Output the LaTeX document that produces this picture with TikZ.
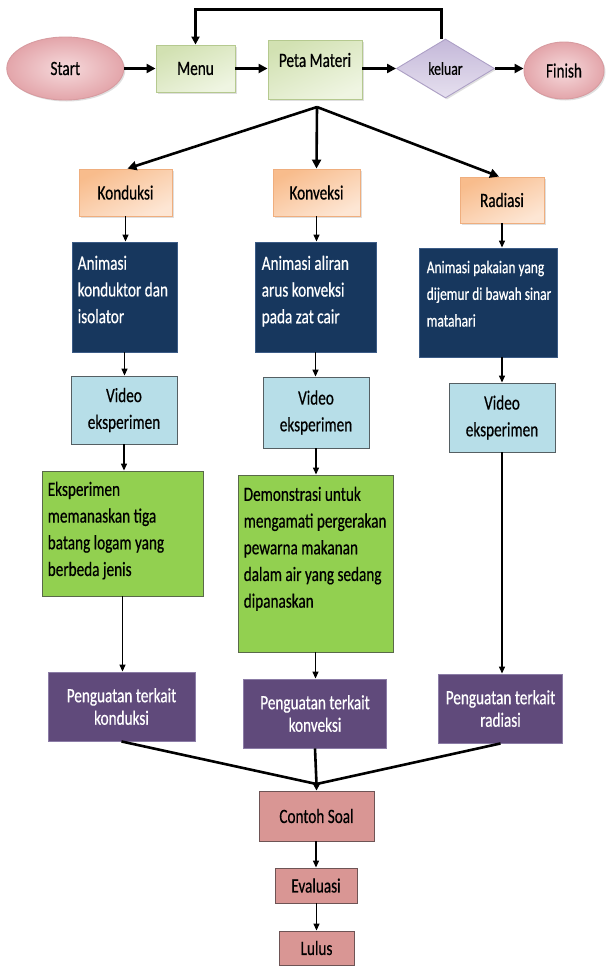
\documentclass[tikz,border=0pt]{standalone}
\usepackage{fontspec}
\setmainfont{Carlito}[FakeStretch=0.75,FakeBold=0.5]
\usetikzlibrary{arrows.meta,shapes.geometric,shadows}

\definecolor{pinkA}{HTML}{F6DADC}
\definecolor{pinkB}{HTML}{E3A5AA}
\definecolor{pinkD}{HTML}{D79BA0}
\definecolor{grnA}{HTML}{EFF5E2}
\definecolor{grnB}{HTML}{D2E1B2}
\definecolor{grnD}{HTML}{B5C98F}
\definecolor{lavA}{HTML}{E6E0EF}
\definecolor{lavB}{HTML}{C4B8D9}
\definecolor{lavD}{HTML}{ADA0C6}
\definecolor{pchA}{HTML}{FDE6D4}
\definecolor{pchB}{HTML}{F8BC8C}
\definecolor{pchD}{HTML}{EFAE7E}
\definecolor{navy}{HTML}{17375E}
\definecolor{navyD}{HTML}{3B5B86}
\definecolor{lblue}{HTML}{B7DEE8}
\definecolor{lblueD}{HTML}{555F63}
\definecolor{lgreen}{HTML}{92D050}
\definecolor{lgreenD}{HTML}{59694A}
\definecolor{purp}{HTML}{604A7B}
\definecolor{purpD}{HTML}{8B7CA6}
\definecolor{rose}{HTML}{D99694}
\definecolor{roseD}{HTML}{6E5455}

\tikzset{
  basebox/.style={rectangle, inner sep=0pt, line width=0.9pt, align=center,
    font=\fontsize{20.3}{26.7}\selectfont},
  shad/.style={drop shadow={opacity=0.25, shadow xshift=1.5pt, shadow yshift=-1.5pt}},
  oval/.style={ellipse, inner sep=0pt, draw=pinkD, line width=0.9pt,
    inner color=pinkA, outer color=pinkB, shad, font=\fontsize{20.3}{22}\selectfont},
  greenbox/.style={basebox, draw=grnD, top color=grnB, bottom color=grnA, shading angle=25, shad},
  decision/.style={diamond, inner sep=0pt, draw=lavD, line width=0.9pt,
    top color=lavB, bottom color=lavA, shad, font=\fontsize{18.2}{20}\selectfont},
  peachbox/.style={basebox, draw=pchD, top color=pchB, bottom color=pchA, shading angle=25, shad},
  navybox/.style={basebox, draw=navyD, fill=navy},
  videobox/.style={basebox, draw=lblueD, fill=lblue},
  expbox/.style={basebox, draw=lgreenD, fill=lgreen},
  purpbox/.style={basebox, draw=purpD, fill=purp, text=white,
    font=\fontsize{20.3}{22.5}\selectfont},
  rosebox/.style={basebox, draw=roseD, fill=rose},
  wtext/.style={inner sep=0pt, anchor=north west, align=left, text=white,
    font=\fontsize{20.3}{26.7}\selectfont},
  btext/.style={inner sep=0pt, anchor=north west, align=left, text=black,
    font=\fontsize{20.3}{26.7}\selectfont},
  bigarrow/.style={line width=2.6pt, -{Triangle[length=9pt,width=9pt]}},
  bigline/.style={line width=2.6pt},
  smallarrow/.style={line width=1.3pt, -{Triangle[length=7pt,width=6pt]}}
}

\begin{document}
\begin{tikzpicture}[x=1pt,y=-1pt]
\useasboundingbox (0,0) rectangle (606,967);

% top row
\node[oval, minimum width=117pt, minimum height=63pt] (start) at (65.3,68.5) {Start};
\node[greenbox, minimum width=79pt, minimum height=47pt] (menu) at (195.5,68.5) {Menu};
\node[greenbox, minimum width=94pt, minimum height=59pt] (peta) at (315,69.5) {};
\node[inner sep=0pt, font=\fontsize{20.3}{22}\selectfont] (petat) at (315,60) {Peta Materi};
\node[decision, minimum width=98pt, minimum height=59pt] (keluar) at (445.5,68.5) {keluar};
\node[oval, minimum width=80pt, minimum height=57pt] (finish) at (564,70.5) {Finish};

\draw[bigarrow] (start) -- (menu);
\draw[bigarrow] (menu) -- (menu -| peta.west);
\draw[bigarrow] (peta.east |- keluar) -- (keluar);
\draw[bigarrow] (keluar) -- (keluar -| finish.west);
\draw[line width=2.3pt, -{Triangle[length=8pt,width=8pt]}]
  ([xshift=-4pt]keluar.north) -- ++(0,-29) -| (menu.north);

% categories
\node[peachbox, minimum width=93pt, minimum height=47pt] (kond) at (125.5,192.5) {Konduksi};
\node[peachbox, minimum width=87pt, minimum height=47pt] (konv) at (316.5,192.5) {Konveksi};
\node[peachbox, minimum width=84pt, minimum height=46pt] (rad) at (502,200) {Radiasi};

\coordinate (fan) at (317,107);
\draw[bigarrow] (fan) -- ([xshift=2pt]kond.north);
\draw[bigarrow] (fan) -- (konv.north);
\draw[bigarrow] (fan) -- ([xshift=-3pt]rad.north);

% animations
\node[navybox, minimum width=105pt, minimum height=110pt] (d1) at (124.5,297) {};
\node[navybox, minimum width=121pt, minimum height=110pt] (d2) at (315.5,297) {};
\node[navybox, minimum width=138pt, minimum height=109pt] (d3) at (488,302.5) {};
\node[wtext] (d1t) at ([xshift=6pt,yshift=-14pt]d1.north west) {Animasi\\konduktor dan\\isolator};
\node[wtext] (d2t) at ([xshift=7pt,yshift=-14pt]d2.north west) {Animasi aliran\\arus konveksi\\pada zat cair};
\node[wtext, font=\fontsize{17.9}{26.7}\selectfont] (d3t) at ([xshift=8pt,yshift=-13pt]d3.north west) {Animasi pakaian yang\\dijemur di bawah sinar\\matahari};

% videos
\node[videobox, minimum width=106pt, minimum height=68pt] (v1) at (124,410) {Video\\eksperimen};
\node[videobox, minimum width=106pt, minimum height=71pt] (v2) at (316,412.5) {Video\\eksperimen};
\node[videobox, minimum width=106pt, minimum height=69pt] (v3) at (502,417.5) {Video\\eksperimen};

% experiments
\node[expbox, minimum width=161pt, minimum height=125pt] (g1) at (122.5,533.5) {};
\node[expbox, minimum width=155pt, minimum height=177pt] (g2) at (315.5,563.5) {};
\node[btext] (g1t) at ([xshift=6pt,yshift=-11pt]g1.north west) {Eksperimen\\memanaskan tiga\\batang logam yang\\berbeda jenis};
\node[btext] (g2t) at ([xshift=6pt,yshift=-12pt]g2.north west) {Demonstrasi untuk\\mengamati pergerakan\\pewarna makanan\\dalam air yang sedang\\dipanaskan};

% reinforcement
\node[purpbox, minimum width=147pt, minimum height=69pt] (p1) at (121.5,706.5) {Penguatan terkait\\konduksi};
\node[purpbox, minimum width=143pt, minimum height=69pt] (p2) at (315,713.5) {Penguatan terkait\\konveksi};
\node[purpbox, minimum width=124pt, minimum height=69pt] (p3) at (500.5,708.5) {Penguatan terkait\\radiasi};

% column arrows
\draw[smallarrow] (kond.south) -- (kond.south |- d1.north);
\draw[smallarrow] (d1.south) -- (d1.south |- v1.north);
\draw[smallarrow] (v1.south) -- (v1.south |- g1.north);
\draw[smallarrow] (g1.south) -- (g1.south |- p1.north);

\draw[smallarrow] (konv.south) -- (konv.south |- d2.north);
\draw[smallarrow] (d2.south) -- (d2.south |- v2.north);
\draw[smallarrow] (v2.south) -- (v2.south |- g2.north);
\draw[smallarrow] (g2.south) -- (g2.south |- p2.north);

\draw[smallarrow] (rad.south) -- (rad.south |- d3.north);
\draw[smallarrow] (rad.south |- d3.south) -- (v3.north);
\draw[smallarrow] (v3.south) -- (v3.south |- p3.north);

% final
\node[rosebox, minimum width=115pt, minimum height=50pt] (cs) at (316.5,816) {Contoh Soal};
\node[rosebox, minimum width=82pt, minimum height=35pt] (ev) at (316,885.5) {Evaluasi};
\node[rosebox, minimum width=75pt, minimum height=34pt] (lu) at (316.5,948) {Lulus};

\coordinate (merge) at (316.5,784);
\draw[bigline] (p1.south) -- (merge);
\draw[bigline] (p3.south) -- (merge);
\draw[bigline] (p2.south) -- (merge);
\draw[line width=1.6pt, -{Triangle[length=7pt,width=7pt]}] (merge) -- (cs.north);
\draw[smallarrow] (cs.south -| ev.north) -- (ev.north);
\draw[smallarrow] (ev.south -| lu.north) -- (lu.north);
\end{tikzpicture}
\end{document}
